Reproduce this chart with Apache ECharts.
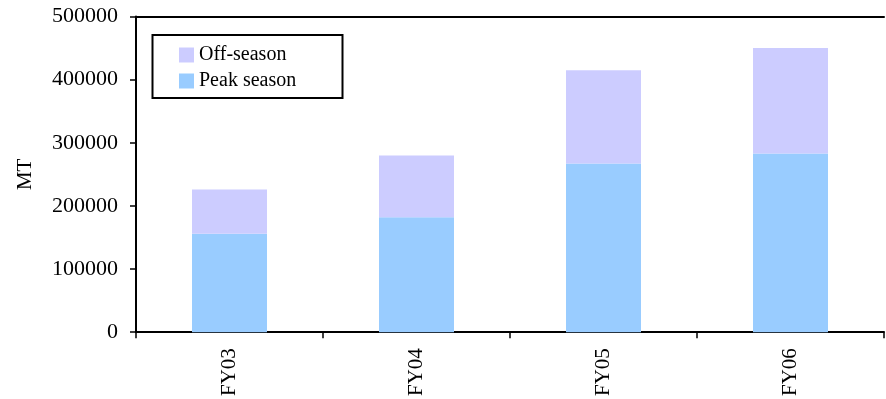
<!DOCTYPE html>
<html>
<head>
<meta charset="utf-8">
<script src="https://cdn.jsdelivr.net/npm/echarts@6/dist/echarts.min.js"></script>
<style>
  html, body { margin: 0; padding: 0; background: #fff; }
  #chart { width: 886px; height: 399px; }
</style>
</head>
<body>
<div id="chart"></div>
<script>
// Fiscal years on the category axis
const categories = ['FY03', 'FY04', 'FY05', 'FY06'];
// Volumes in MT, stacked: peak season at the bottom, off-season on top
const peakSeason = [156000, 182000, 267000, 283000];
const offSeason = [70000, 98000, 148000, 167000];
// Value axis range
const yMin = 0;
const yMax = 500000;
const yStep = 100000;

const FONT = '"Liberation Serif", "DejaVu Serif", serif';

const chart = echarts.init(document.getElementById('chart'), null, { renderer: 'canvas' });

chart.setOption({
  animation: false,
  backgroundColor: '#ffffff',
  grid: { left: 136, right: 2, top: 16.5, bottom: 66, containLabel: false },
  legend: {
    orient: 'vertical',
    left: 174,
    top: 40,
    itemWidth: 15,
    itemHeight: 15,
    itemGap: 6,
    icon: 'rect',
    data: ['Off-season', 'Peak season'],
    textStyle: { fontFamily: FONT, fontSize: 20, color: '#000', lineHeight: 20 }
  },
  graphic: [{
    type: 'rect',
    left: 150,
    top: 32.5,
    shape: { width: 190, height: 63 },
    style: { fill: 'none', stroke: '#000', lineWidth: 2 },
    z: 10
  }],
  xAxis: [{
    type: 'category',
    data: categories,
    boundaryGap: true,
    axisLine: { show: true, lineStyle: { color: '#000', width: 2 } },
    axisTick: { show: true, length: 6, alignWithLabel: false, lineStyle: { color: '#000', width: 1.5 } },
    axisLabel: { rotate: 90, margin: 16, fontFamily: FONT, fontSize: 21, color: '#000' }
  }, {
    type: 'category',
    position: 'top',
    data: categories,
    axisLine: { show: true, lineStyle: { color: '#000', width: 2 } },
    axisTick: { show: false },
    axisLabel: { show: false }
  }],
  yAxis: {
    type: 'value',
    min: yMin,
    max: yMax,
    interval: yStep,
    name: 'MT',
    nameLocation: 'middle',
    nameGap: 100,
    nameTextStyle: { fontFamily: FONT, fontSize: 21, color: '#000' },
    axisLine: { show: true, lineStyle: { color: '#000', width: 2 } },
    axisTick: { show: true, length: 6, inside: false, lineStyle: { color: '#000', width: 1.5 } },
    axisLabel: {
      margin: 18,
      fontFamily: FONT,
      fontSize: 22,
      color: '#000',
      formatter: (v) => String(v)
    },
    splitLine: { show: false }
  },
  series: [{
    name: 'Peak season',
    type: 'bar',
    stack: 'total',
    data: peakSeason,
    barWidth: 75,
    itemStyle: { color: '#99ccff' }
  }, {
    name: 'Off-season',
    type: 'bar',
    stack: 'total',
    data: offSeason,
    barWidth: 75,
    itemStyle: { color: '#ccccff' }
  }]
});
</script>
</body>
</html>
